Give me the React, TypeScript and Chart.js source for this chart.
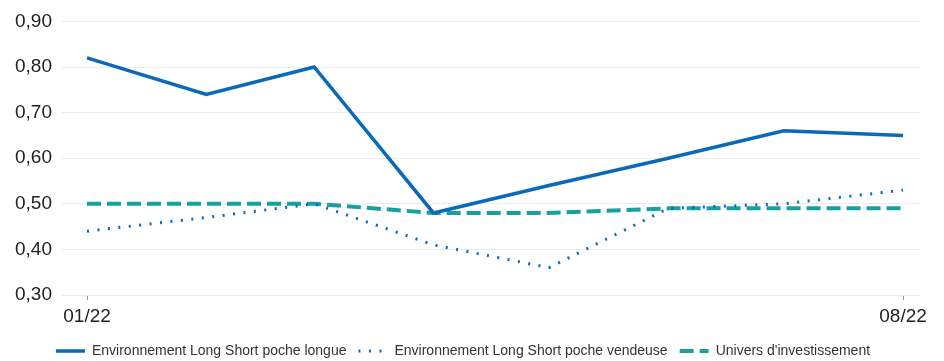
import React, { useEffect, useRef } from "react";
import { Chart, registerables } from "chart.js";

Chart.register(...registerables);

const months = ["2022-01-01", "2022-02-01", "2022-03-01", "2022-04-01", "2022-05-01", "2022-06-01", "2022-07-01", "2022-08-01"];
const tickLabels = ["01/22", "08/22"];
const longue = [0.82, 0.74, 0.8, 0.48, 0.54, 0.6, 0.66, 0.65];
const vendeuse = [0.44, 0.47, 0.5, 0.41, 0.36, 0.49, 0.5, 0.53];
const univers = [0.5, 0.5, 0.5, 0.48, 0.48, 0.49, 0.49, 0.49];
const seriesNames = ["Environnement Long Short poche longue", "Environnement Long Short poche vendeuse", "Univers d'investissement"];

const DAY = 86400000;
const t0 = Date.parse(months[0]);
const days = months.map((m) => Math.round((Date.parse(m) - t0) / DAY));
const firstDay = days[0];
const lastDay = days[days.length - 1];

const toPoints = (vals: number[]) => vals.map((v, i) => ({ x: days[i], y: v }));

const FONT = "'Liberation Sans', Arial, sans-serif";
const BLUE = "#0a69b8";
const TEAL = "#17a0a0";

export default function App() {
  const ref = useRef<HTMLCanvasElement | null>(null);
  useEffect(() => {
    document.body.style.margin = "0";
    const chart = new Chart(ref.current as HTMLCanvasElement, {
      type: "line",
      data: {
        datasets: [
          { label: seriesNames[0], data: toPoints(longue), borderColor: BLUE, backgroundColor: BLUE, borderWidth: 3.5, pointRadius: 0, tension: 0 },
          { label: seriesNames[1], data: toPoints(vendeuse), borderColor: BLUE, backgroundColor: BLUE, borderWidth: 3, borderDash: [2, 8.5], pointRadius: 0, tension: 0 },
          { label: seriesNames[2], data: toPoints(univers), borderColor: TEAL, backgroundColor: TEAL, borderWidth: 4, borderDash: [14, 6], pointRadius: 0, tension: 0 },
        ],
      },
      options: {
        animation: false,
        responsive: false,
        maintainAspectRatio: false,
        layout: { padding: { top: 16, left: 6, right: 24, bottom: -7 } },
        plugins: {
          tooltip: { enabled: false },
          legend: {
            position: "bottom",
            labels: {
              usePointStyle: true,
              pointStyle: "line",
              pointStyleWidth: 29,
              padding: 12,
              color: "#333",
              font: { family: FONT, size: 14 },
              generateLabels: (c: any) => {
                const items = Chart.defaults.plugins.legend.labels.generateLabels(c);
                items.forEach((it: any, i: number) => {
                  const ds: any = c.data.datasets[i];
                  it.lineDash = ds.borderDash || [];
                  it.lineWidth = ds.borderWidth;
                  it.strokeStyle = ds.borderColor;
                });
                return items;
              },
            },
          },
        },
        scales: {
          x: {
            type: "linear",
            min: firstDay - 6.5,
            max: lastDay + 4.4,
            afterBuildTicks: (scale: any) => {
              scale.ticks = [{ value: firstDay }, { value: lastDay }];
            },
            afterFit: (scale: any) => {
              scale.height = 37;
            },
            ticks: {
              autoSkip: false,
              maxRotation: 0,
              padding: 5,
              color: "#222",
              font: { family: FONT, size: 19 },
              callback: (v: any) => (v === firstDay ? tickLabels[0] : v === lastDay ? tickLabels[1] : ""),
            },
            grid: { drawOnChartArea: false, drawTicks: true, tickLength: 5, color: "#999" },
            border: { display: false },
          },
          y: {
            min: 0.3,
            max: 0.9,
            afterFit: (scale: any) => {
              scale.width = 56;
            },
            ticks: {
              stepSize: 0.1,
              padding: 10,
              color: "#222",
              font: { family: FONT, size: 19 },
              callback: (v: any) => Number(v).toFixed(2).replace(".", ","),
            },
            grid: { color: "#ececec", drawTicks: false },
            border: { display: false },
          },
        },
      },
    } as any);
    return () => chart.destroy();
  }, []);
  return (
    <div style={{ width: 944, height: 361 }}>
      <canvas ref={ref} width={944} height={361} style={{ width: 944, height: 361 }} />
    </div>
  );
}
